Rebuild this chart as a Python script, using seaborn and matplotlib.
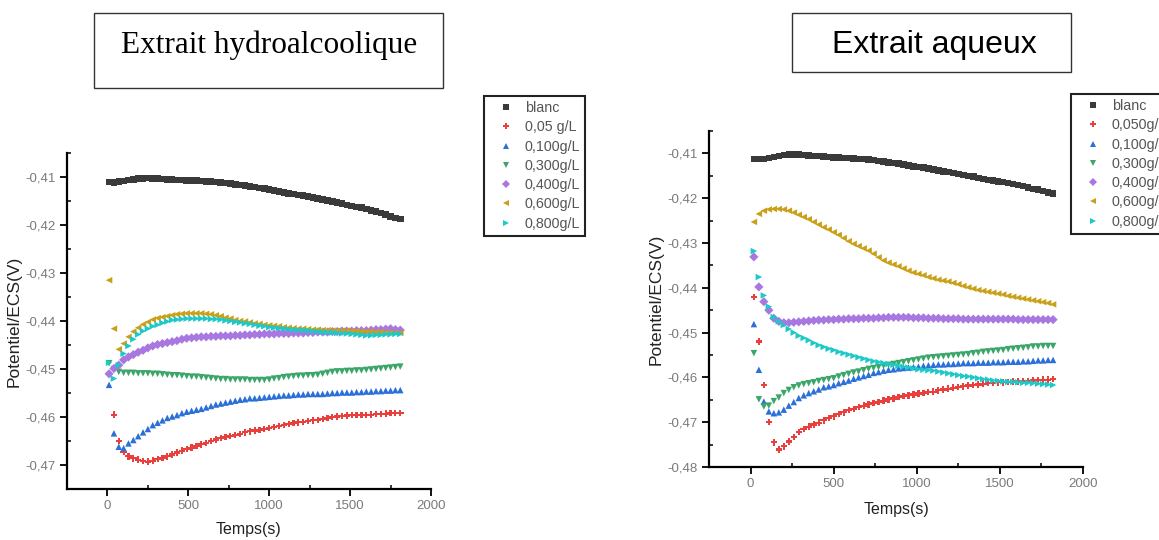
import numpy as np
import pandas as pd
import matplotlib
matplotlib.use("Agg")
import matplotlib.pyplot as plt
from matplotlib.patches import Rectangle
from matplotlib.ticker import MultipleLocator
import seaborn as sns

# ---------------- data ----------------
titles = ["Extrait hydroalcoolique", "Extrait aqueux"]
series_left = ["blanc", "0,05 g/L", "0,100g/L", "0,300g/L", "0,400g/L", "0,600g/L", "0,800g/L"]
series_right = ["blanc", "0,050g/L", "0,100g/L", "0,300g/L", "0,400g/L", "0,600g/L", "0,800g/L"]
x_label = "Temps(s)"
y_label = "Potentiel/ECS(V)"
x_ticks = [0, 500, 1000, 1500, 2000]
y_ticks_left = [-0.47, -0.46, -0.45, -0.44, -0.43, -0.42, -0.41]
y_ticks_right = [-0.48, -0.47, -0.46, -0.45, -0.44, -0.43, -0.42, -0.41]

t_left = [10, 40, 70, 100, 130, 160, 190, 220, 250, 280, 310, 340, 370, 400, 430, 460, 490, 520, 550, 580,
          610, 640, 670, 700, 730, 760, 790, 820, 850, 880, 910, 940, 970, 1000, 1030, 1060, 1090, 1120, 1150,
          1180, 1210, 1240, 1270, 1300, 1330, 1360, 1390, 1420, 1450, 1480, 1510, 1540, 1570, 1600, 1630, 1660,
          1690, 1720, 1750, 1780, 1810]

L_blanc = [-0.4110, -0.4111, -0.4109, -0.4108, -0.4106, -0.4105, -0.4103, -0.4103, -0.4102, -0.4103, -0.4103,
           -0.4104, -0.4105, -0.4105, -0.4106, -0.4106, -0.4107, -0.4107, -0.4107, -0.4108, -0.4109, -0.4109,
           -0.4110, -0.4111, -0.4113, -0.4114, -0.4116, -0.4117, -0.4118, -0.4120, -0.4121, -0.4123, -0.4124,
           -0.4126, -0.4128, -0.4130, -0.4132, -0.4134, -0.4135, -0.4137, -0.4139, -0.4141, -0.4143, -0.4145,
           -0.4147, -0.4149, -0.4151, -0.4153, -0.4155, -0.4158, -0.4160, -0.4162, -0.4164, -0.4167, -0.4170,
           -0.4172, -0.4175, -0.4178, -0.4182, -0.4185, -0.4188]
L_c005 = [np.nan, -0.4595, -0.4650, -0.4673, -0.4682, -0.4686, -0.4689, -0.4692, -0.4693, -0.4691, -0.4688,
          -0.4685, -0.4682, -0.4678, -0.4674, -0.4670, -0.4667, -0.4664, -0.4660, -0.4657, -0.4654, -0.4650,
          -0.4647, -0.4644, -0.4642, -0.4640, -0.4638, -0.4635, -0.4632, -0.4630, -0.4628, -0.4627, -0.4625,
          -0.4623, -0.4621, -0.4619, -0.4617, -0.4615, -0.4613, -0.4611, -0.4610, -0.4608, -0.4607, -0.4606,
          -0.4604, -0.4602, -0.4600, -0.4599, -0.4598, -0.4597, -0.4596, -0.4596, -0.4596, -0.4596, -0.4595,
          -0.4594, -0.4594, -0.4593, -0.4592, -0.4592, -0.4592]
L_c100 = [-0.4533, -0.4634, -0.4662, -0.4665, -0.4655, -0.4648, -0.4640, -0.4632, -0.4625, -0.4617, -0.4612,
          -0.4607, -0.4602, -0.4599, -0.4596, -0.4592, -0.4589, -0.4587, -0.4585, -0.4583, -0.4580, -0.4577,
          -0.4574, -0.4572, -0.4570, -0.4568, -0.4566, -0.4564, -0.4563, -0.4561, -0.4561, -0.4560, -0.4559,
          -0.4558, -0.4557, -0.4556, -0.4555, -0.4555, -0.4554, -0.4553, -0.4553, -0.4552, -0.4552, -0.4552,
          -0.4552, -0.4551, -0.4550, -0.4550, -0.4549, -0.4549, -0.4549, -0.4548, -0.4548, -0.4547, -0.4547,
          -0.4546, -0.4546, -0.4545, -0.4545, -0.4544, -0.4544]
L_c300 = [-0.4488, -0.4500, -0.4506, -0.4508, -0.4508, -0.4508, -0.4509, -0.4509, -0.4509, -0.4510, -0.4510,
          -0.4511, -0.4512, -0.4513, -0.4513, -0.4514, -0.4515, -0.4516, -0.4516, -0.4517, -0.4518, -0.4519,
          -0.4520, -0.4521, -0.4521, -0.4522, -0.4522, -0.4522, -0.4522, -0.4523, -0.4523, -0.4523, -0.4523,
          -0.4522, -0.4520, -0.4519, -0.4517, -0.4516, -0.4515, -0.4514, -0.4514, -0.4513, -0.4513, -0.4512,
          -0.4510, -0.4508, -0.4506, -0.4505, -0.4505, -0.4504, -0.4504, -0.4503, -0.4503, -0.4502, -0.4501,
          -0.4500, -0.4499, -0.4498, -0.4497, -0.4496, -0.4495]
L_c400 = [-0.4510, -0.4499, -0.4492, -0.4481, -0.4475, -0.4470, -0.4465, -0.4461, -0.4456, -0.4452, -0.4449,
          -0.4447, -0.4445, -0.4443, -0.4441, -0.4438, -0.4436, -0.4435, -0.4434, -0.4433, -0.4433, -0.4432,
          -0.4432, -0.4431, -0.4431, -0.4431, -0.4430, -0.4430, -0.4429, -0.4429, -0.4428, -0.4428, -0.4427,
          -0.4427, -0.4427, -0.4426, -0.4426, -0.4426, -0.4425, -0.4425, -0.4425, -0.4424, -0.4424, -0.4423,
          -0.4423, -0.4423, -0.4422, -0.4422, -0.4421, -0.4421, -0.4421, -0.4420, -0.4420, -0.4420, -0.4419,
          -0.4418, -0.4418, -0.4417, -0.4416, -0.4418, -0.4419]
L_c600 = [-0.4315, -0.4416, -0.4459, -0.4447, -0.4433, -0.4422, -0.4414, -0.4407, -0.4402, -0.4397, -0.4394,
          -0.4392, -0.4390, -0.4388, -0.4386, -0.4385, -0.4384, -0.4384, -0.4384, -0.4384, -0.4385, -0.4386,
          -0.4388, -0.4390, -0.4393, -0.4395, -0.4398, -0.4400, -0.4401, -0.4403, -0.4405, -0.4406, -0.4408,
          -0.4409, -0.4410, -0.4411, -0.4413, -0.4414, -0.4415, -0.4416, -0.4416, -0.4417, -0.4418, -0.4418,
          -0.4419, -0.4419, -0.4420, -0.4420, -0.4420, -0.4420, -0.4421, -0.4421, -0.4422, -0.4422, -0.4422,
          -0.4423, -0.4423, -0.4424, -0.4424, -0.4425, -0.4425]
L_c800 = [-0.4487, -0.4520, -0.4492, -0.4468, -0.4452, -0.4438, -0.4428, -0.4421, -0.4416, -0.4411, -0.4408,
          -0.4404, -0.4401, -0.4398, -0.4397, -0.4396, -0.4395, -0.4395, -0.4395, -0.4395, -0.4395, -0.4396,
          -0.4396, -0.4397, -0.4399, -0.4400, -0.4402, -0.4403, -0.4405, -0.4406, -0.4408, -0.4410, -0.4411,
          -0.4413, -0.4414, -0.4415, -0.4416, -0.4417, -0.4418, -0.4419, -0.4419, -0.4420, -0.4421, -0.4422,
          -0.4423, -0.4424, -0.4424, -0.4425, -0.4426, -0.4426, -0.4427, -0.4428, -0.4429, -0.4430, -0.4430,
          -0.4429, -0.4429, -0.4428, -0.4428, -0.4427, -0.4427]

t_right = [20, 50, 80, 110, 140, 170, 200, 230, 260, 290, 320, 350, 380, 410, 440, 470, 500, 530, 560, 590,
           620, 650, 680, 710, 740, 770, 800, 830, 860, 890, 920, 950, 980, 1010, 1040, 1070, 1100, 1130, 1160,
           1190, 1220, 1250, 1280, 1310, 1340, 1370, 1400, 1430, 1460, 1490, 1520, 1550, 1580, 1610, 1640, 1670,
           1700, 1730, 1760, 1790, 1820]

R_blanc = [-0.4113, -0.4112, -0.4112, -0.4110, -0.4108, -0.4106, -0.4104, -0.4103, -0.4103, -0.4103, -0.4104,
           -0.4105, -0.4106, -0.4106, -0.4107, -0.4108, -0.4109, -0.4109, -0.4110, -0.4110, -0.4111, -0.4112,
           -0.4113, -0.4114, -0.4115, -0.4117, -0.4118, -0.4120, -0.4121, -0.4123, -0.4125, -0.4127, -0.4129,
           -0.4130, -0.4132, -0.4134, -0.4136, -0.4138, -0.4140, -0.4142, -0.4144, -0.4146, -0.4148, -0.4150,
           -0.4152, -0.4155, -0.4157, -0.4159, -0.4161, -0.4163, -0.4164, -0.4166, -0.4168, -0.4171, -0.4173,
           -0.4176, -0.4179, -0.4181, -0.4184, -0.4187, -0.4189]
R_c050 = [-0.4420, -0.4520, -0.4617, -0.4700, -0.4745, -0.4761, -0.4754, -0.4743, -0.4733, -0.4722, -0.4715,
          -0.4710, -0.4705, -0.4701, -0.4696, -0.4691, -0.4687, -0.4682, -0.4678, -0.4673, -0.4670, -0.4666,
          -0.4663, -0.4660, -0.4657, -0.4655, -0.4652, -0.4649, -0.4647, -0.4644, -0.4642, -0.4640, -0.4638,
          -0.4636, -0.4635, -0.4633, -0.4632, -0.4629, -0.4627, -0.4625, -0.4623, -0.4621, -0.4620, -0.4618,
          -0.4617, -0.4616, -0.4614, -0.4613, -0.4612, -0.4611, -0.4611, -0.4610, -0.4609, -0.4609, -0.4608,
          -0.4608, -0.4607, -0.4606, -0.4605, -0.4605, -0.4604]
R_c100 = [-0.4481, -0.4583, -0.4654, -0.4676, -0.4680, -0.4678, -0.4672, -0.4663, -0.4655, -0.4646, -0.4640,
          -0.4635, -0.4631, -0.4627, -0.4622, -0.4620, -0.4617, -0.4613, -0.4610, -0.4607, -0.4603, -0.4600,
          -0.4597, -0.4594, -0.4590, -0.4588, -0.4585, -0.4583, -0.4582, -0.4580, -0.4579, -0.4578, -0.4577,
          -0.4576, -0.4574, -0.4573, -0.4572, -0.4571, -0.4571, -0.4570, -0.4570, -0.4569, -0.4568, -0.4568,
          -0.4568, -0.4567, -0.4567, -0.4567, -0.4566, -0.4566, -0.4566, -0.4565, -0.4565, -0.4565, -0.4564,
          -0.4564, -0.4563, -0.4562, -0.4562, -0.4561, -0.4561]
R_c300 = [-0.4546, -0.4649, -0.4665, -0.4663, -0.4653, -0.4645, -0.4635, -0.4628, -0.4622, -0.4618, -0.4615,
          -0.4613, -0.4611, -0.4608, -0.4606, -0.4604, -0.4602, -0.4598, -0.4595, -0.4592, -0.4589, -0.4587,
          -0.4584, -0.4581, -0.4579, -0.4577, -0.4574, -0.4572, -0.4570, -0.4568, -0.4566, -0.4564, -0.4562,
          -0.4560, -0.4558, -0.4556, -0.4555, -0.4554, -0.4553, -0.4552, -0.4551, -0.4550, -0.4549, -0.4548,
          -0.4546, -0.4545, -0.4543, -0.4542, -0.4541, -0.4540, -0.4539, -0.4537, -0.4536, -0.4535, -0.4534,
          -0.4533, -0.4531, -0.4531, -0.4530, -0.4530, -0.4530]
R_c400 = [-0.4331, -0.4398, -0.4431, -0.4450, -0.4468, -0.4475, -0.4478, -0.4478, -0.4477, -0.4476, -0.4475,
          -0.4474, -0.4473, -0.4472, -0.4472, -0.4471, -0.4471, -0.4470, -0.4470, -0.4469, -0.4469, -0.4469,
          -0.4468, -0.4468, -0.4468, -0.4467, -0.4467, -0.4466, -0.4466, -0.4466, -0.4466, -0.4466, -0.4467,
          -0.4467, -0.4467, -0.4468, -0.4468, -0.4468, -0.4469, -0.4469, -0.4469, -0.4469, -0.4470, -0.4470,
          -0.4470, -0.4470, -0.4470, -0.4470, -0.4470, -0.4470, -0.4470, -0.4470, -0.4470, -0.4471, -0.4471,
          -0.4471, -0.4471, -0.4471, -0.4471, -0.4471, -0.4471]
R_c600 = [-0.4253, -0.4235, -0.4228, -0.4225, -0.4224, -0.4224, -0.4225, -0.4228, -0.4232, -0.4237, -0.4242,
          -0.4247, -0.4253, -0.4259, -0.4265, -0.4270, -0.4276, -0.4282, -0.4289, -0.4296, -0.4302, -0.4307,
          -0.4312, -0.4317, -0.4324, -0.4332, -0.4339, -0.4344, -0.4348, -0.4352, -0.4357, -0.4362, -0.4366,
          -0.4369, -0.4372, -0.4376, -0.4379, -0.4382, -0.4384, -0.4386, -0.4389, -0.4392, -0.4396, -0.4399,
          -0.4402, -0.4405, -0.4407, -0.4409, -0.4411, -0.4413, -0.4415, -0.4418, -0.4420, -0.4422, -0.4424,
          -0.4426, -0.4428, -0.4430, -0.4432, -0.4434, -0.4437]
R_c800 = [-0.4318, -0.4376, -0.4417, -0.4442, -0.4465, -0.4475, -0.4483, -0.4492, -0.4500, -0.4507, -0.4512,
          -0.4517, -0.4523, -0.4528, -0.4532, -0.4536, -0.4539, -0.4543, -0.4546, -0.4549, -0.4552, -0.4555,
          -0.4558, -0.4561, -0.4564, -0.4566, -0.4568, -0.4570, -0.4572, -0.4574, -0.4576, -0.4578, -0.4580,
          -0.4582, -0.4583, -0.4584, -0.4585, -0.4587, -0.4589, -0.4591, -0.4593, -0.4595, -0.4597, -0.4598,
          -0.4600, -0.4602, -0.4604, -0.4605, -0.4607, -0.4608, -0.4609, -0.4610, -0.4610, -0.4611, -0.4612,
          -0.4612, -0.4613, -0.4614, -0.4615, -0.4616, -0.4617]

# ---------------- styling ----------------
colors = ["#3a3a3a", "#e8403c", "#2b6fd8", "#3aa66a", "#a878e0", "#c9a017", "#1cc8c8"]
markers = ["s", "P", "^", "v", "D", "<", ">"]

sns.set_style("ticks")
plt.rcParams["font.family"] = ["Liberation Sans", "DejaVu Sans"]


def long_frame(t, names, values):
    rows = []
    for name, vals in zip(names, values):
        rows.append(pd.DataFrame({"t": t, "E": vals, "serie": name}))
    return pd.concat(rows, ignore_index=True)


df_left = long_frame(t_left, series_left, [L_blanc, L_c005, L_c100, L_c300, L_c400, L_c600, L_c800])
df_right = long_frame(t_right, series_right, [R_blanc, R_c050, R_c100, R_c300, R_c400, R_c600, R_c800])

W, H = 1159, 540
fig = plt.figure(figsize=(W / 100, H / 100), dpi=100)

ax_l = fig.add_axes([67 / W, 1 - 489 / H, 364 / W, 336 / H])
ax_r = fig.add_axes([709 / W, 1 - 467 / H, 374 / W, 336 / H])


def fmt(v, nd):
    return f"{v:.{nd}f}".replace(".", ",")


def draw(ax, df, names, yticks, ylim, legend_anchor, xlabel_y):
    sns.scatterplot(data=df, x="t", y="E", hue="serie", style="serie",
                    hue_order=names, style_order=names,
                    palette=dict(zip(names, colors)), markers=dict(zip(names, markers)),
                    s=22, linewidth=0, ax=ax, legend=True)
    ax.set_xlim(-250, 2000)
    ax.set_ylim(*ylim)
    ax.set_xticks(x_ticks)
    ax.set_xticklabels([str(v) for v in x_ticks])
    ax.set_yticks(yticks)
    ax.set_yticklabels([fmt(v, 2) for v in yticks])
    ax.xaxis.set_minor_locator(MultipleLocator(250))
    ax.yaxis.set_minor_locator(MultipleLocator(0.005))
    ax.tick_params(which="major", direction="out", length=5, width=1.3,
                   labelsize=9.5, labelcolor="#7a7a7a", color="black", pad=3)
    ax.tick_params(which="minor", direction="in", length=3, width=1.1, color="black")
    for side in ("top", "right"):
        ax.spines[side].set_visible(False)
    for side in ("left", "bottom"):
        ax.spines[side].set_linewidth(1.6)
        ax.spines[side].set_color("black")
    ax.set_xlabel(x_label, fontsize=11.5, color="#222222")
    ax.xaxis.set_label_coords(0.5, xlabel_y)
    ax.set_ylabel(y_label, fontsize=12.5, color="#222222", labelpad=3)
    ax.set_facecolor("white")
    leg = ax.legend(loc="upper left", bbox_to_anchor=legend_anchor, bbox_transform=fig.transFigure,
                    fontsize=10.3, frameon=True, fancybox=False, framealpha=1,
                    edgecolor="#222222", borderpad=0.35, labelspacing=0.37,
                    handlelength=2.4, handletextpad=0.1, borderaxespad=0, markerscale=0.9)
    leg.get_frame().set_linewidth(1.5)
    for txt in leg.get_texts():
        txt.set_color("#555555")


draw(ax_l, df_left, series_left, y_ticks_left, (-0.475, -0.405), (484 / W, 1 - 96 / H), -0.097)
draw(ax_r, df_right, series_right, y_ticks_right, (-0.48, -0.405), (1071 / W, 1 - 94 / H), -0.104)

# title boxes
fig.patches.append(Rectangle((94 / W, 1 - 87.7 / H), 349 / W, 75 / H, transform=fig.transFigure,
                             fill=False, edgecolor="#333333", linewidth=1.0))
fig.patches.append(Rectangle((791.7 / W, 1 - 71.7 / H), 279 / W, 59 / H, transform=fig.transFigure,
                             fill=False, edgecolor="#333333", linewidth=1.0))
fig.text(268.9 / W, 1 - 53.3 / H, titles[0], ha="center", va="baseline", fontsize=22.5,
         family=["Liberation Serif", "DejaVu Serif"], color="black")
fig.text(934.8 / W, 1 - 53.3 / H, titles[1], ha="center", va="baseline", fontsize=23,
         family=["Liberation Sans", "DejaVu Sans"], color="black")

fig.savefig("out.png", dpi=100, facecolor="white")
